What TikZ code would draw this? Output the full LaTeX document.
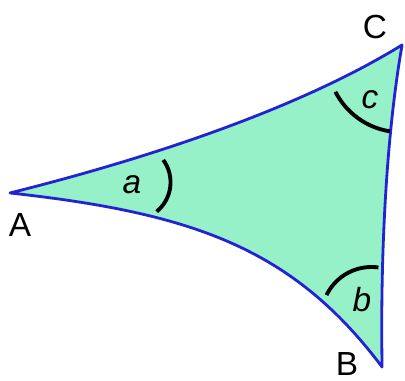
\documentclass[tikz,border=0pt]{standalone}
\usepackage{fontspec}
\setmainfont{Liberation Sans}
\usetikzlibrary{positioning}
\definecolor{mintgreen}{RGB}{150,240,200}
\definecolor{edgeblue}{RGB}{35,35,210}
\tikzset{
  vlabel/.style={font=\fontsize{19}{22}\selectfont},
  alabel/.style={font=\fontsize{19}{22}\selectfont\itshape},
  anglearc/.style={line width=2.2pt, black},
  side/.style={line width=1.6pt, edgeblue, line join=round}
}

\begin{document}
\begin{tikzpicture}[scale=0.02]
  \useasboundingbox (0,0) rectangle (405,381);
  % vertices
  \coordinate (A) at (10,188);
  \coordinate (B) at (382,14);
  \coordinate (C) at (402,336);

  % curved triangle
  \filldraw[side, fill=mintgreen] (A) .. controls (150,223) and (300,273) .. (C)
    .. controls (388,256) and (380,141) .. (B)
    .. controls (292,134) and (191,168) .. (A) -- cycle;

  % angle arcs
  \coordinate (arcA) at (132.5,198.7);
  \coordinate (arcB) at (371.4,64);
  \coordinate (arcC) at (401.3,322.7);
  \draw[anglearc] (arcA) ++(-50.5:38) arc[start angle=-50.5, end angle=36, radius=38];
  \draw[anglearc] (arcB) ++(82:50) arc[start angle=82, end angle=154, radius=50];
  \draw[anglearc] (arcC) ++(207:74) arc[start angle=207, end angle=261, radius=74];

  % angle names
  \node[alabel] (angA) at (132,196) {a};
  \node[alabel] (angB) at (362,81) {b};
  \node[alabel] (angC) at (370,281) {c};

  % vertex names
  \node[vlabel] (labA) at (20,156) {A};
  \node[vlabel] (labB) at (347,17) {B};
  \node[vlabel] (labC) at (375,354) {C};
\end{tikzpicture}
\end{document}
